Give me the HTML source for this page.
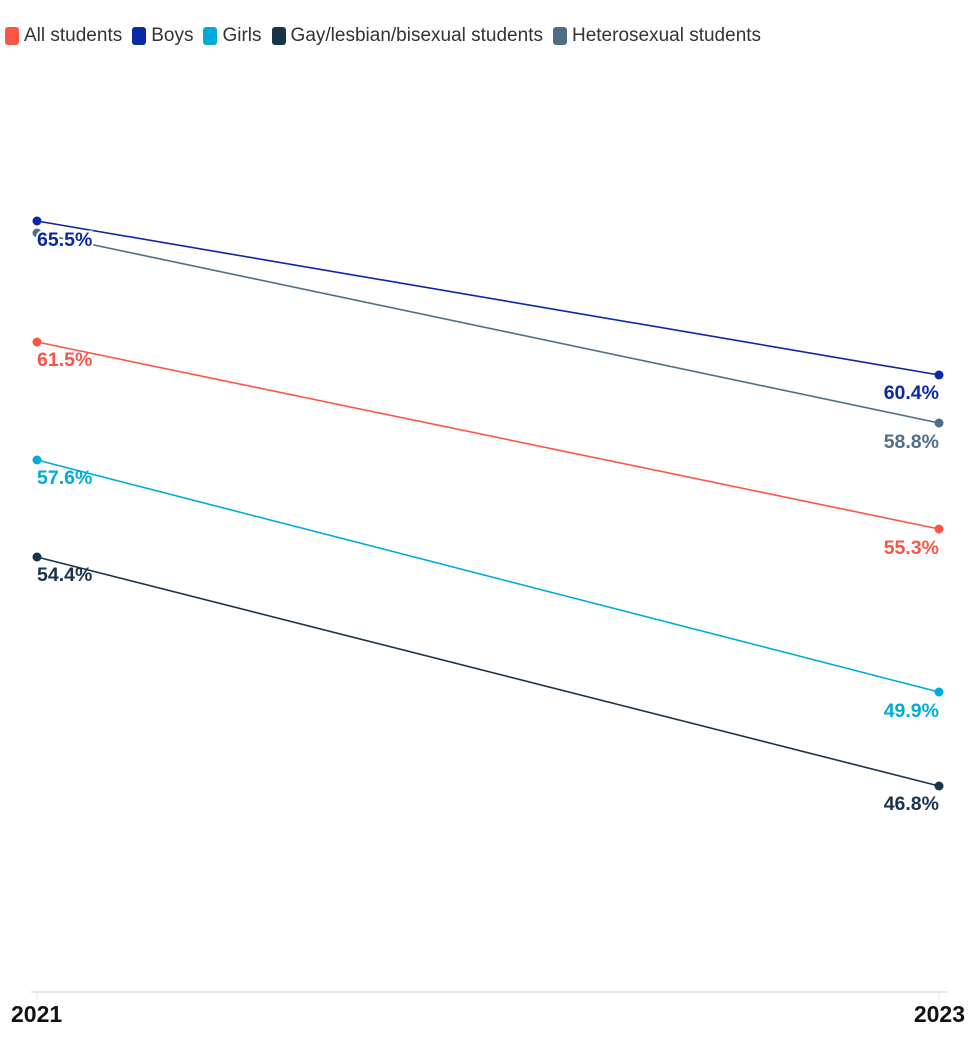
<!DOCTYPE html>
<html><head><meta charset="utf-8"><style>
body{margin:0;background:#fff;width:978px;height:1044px;overflow:hidden;font-family:"Liberation Sans",sans-serif}
.leg{position:absolute;top:25px;left:5px;font-size:19px;color:#333;display:flex;align-items:center;white-space:nowrap}
.leg span.sw{display:inline-block;width:14px;height:18px;border-radius:3px;margin-right:5px}
.leg .it{display:flex;align-items:center;margin-right:10px}
</style></head><body>
<div class="leg">
<div class="it"><span class="sw" style="background:#fa5646"></span>All students</div>
<div class="it"><span class="sw" style="background:#0a28a8"></span>Boys</div>
<div class="it"><span class="sw" style="background:#00abd9"></span>Girls</div>
<div class="it"><span class="sw" style="background:#1a3349"></span>Gay/lesbian/bisexual students</div>
<div class="it"><span class="sw" style="background:#4f6f86"></span>Heterosexual students</div>
</div>
<svg width="978" height="1044" style="position:absolute;left:0;top:0" font-family="Liberation Sans, sans-serif">
<line x1="31" y1="992" x2="947" y2="992" stroke="#e8e8e8" stroke-width="2"/>
<line x1="37" y1="992" x2="37" y2="1000" stroke="#e8e8e8"/>
<line x1="939" y1="992" x2="939" y2="1000" stroke="#e8e8e8"/>
<g stroke-width="1.6">
<line x1="37" y1="233" x2="939" y2="423" stroke="#4f6f86"/>
<line x1="37" y1="221" x2="939" y2="375" stroke="#0a28a8"/>
<line x1="37" y1="342" x2="939" y2="529" stroke="#fa5646"/>
<line x1="37" y1="460" x2="939" y2="692" stroke="#00abd9"/>
<line x1="37" y1="557" x2="939" y2="786" stroke="#1a3349"/>
</g>
<g>
<circle cx="37" cy="233" r="4.5" fill="#4f6f86"/><circle cx="939" cy="423" r="4.5" fill="#4f6f86"/>
<circle cx="37" cy="221" r="4.5" fill="#0a28a8"/><circle cx="939" cy="375" r="4.5" fill="#0a28a8"/>
<circle cx="37" cy="342" r="4.5" fill="#fa5646"/><circle cx="939" cy="529" r="4.5" fill="#fa5646"/>
<circle cx="37" cy="460" r="4.5" fill="#00abd9"/><circle cx="939" cy="692" r="4.5" fill="#00abd9"/>
<circle cx="37" cy="557" r="4.5" fill="#1a3349"/><circle cx="939" cy="786" r="4.5" fill="#1a3349"/>
</g>
<g font-size="19.5" font-weight="bold">
<text x="37" y="246" fill="#0a28a8" stroke="#fff" stroke-width="4" paint-order="stroke">65.5%</text>
<text x="37" y="366" fill="#fa5646">61.5%</text>
<text x="37" y="484" fill="#00abd9">57.6%</text>
<text x="37" y="581" fill="#1a3349">54.4%</text>
<g text-anchor="end">
<text x="939" y="399" fill="#0a28a8">60.4%</text>
<text x="939" y="448" fill="#4f6f86">58.8%</text>
<text x="939" y="554" fill="#fa5646">55.3%</text>
<text x="939" y="717" fill="#00abd9">49.9%</text>
<text x="939" y="810" fill="#1a3349">46.8%</text>
</g>
</g>
<g font-size="23" font-weight="bold" fill="#111">
<text x="11" y="1022">2021</text>
<text x="965" y="1022" text-anchor="end">2023</text>
</g>
</svg>
</body></html>
